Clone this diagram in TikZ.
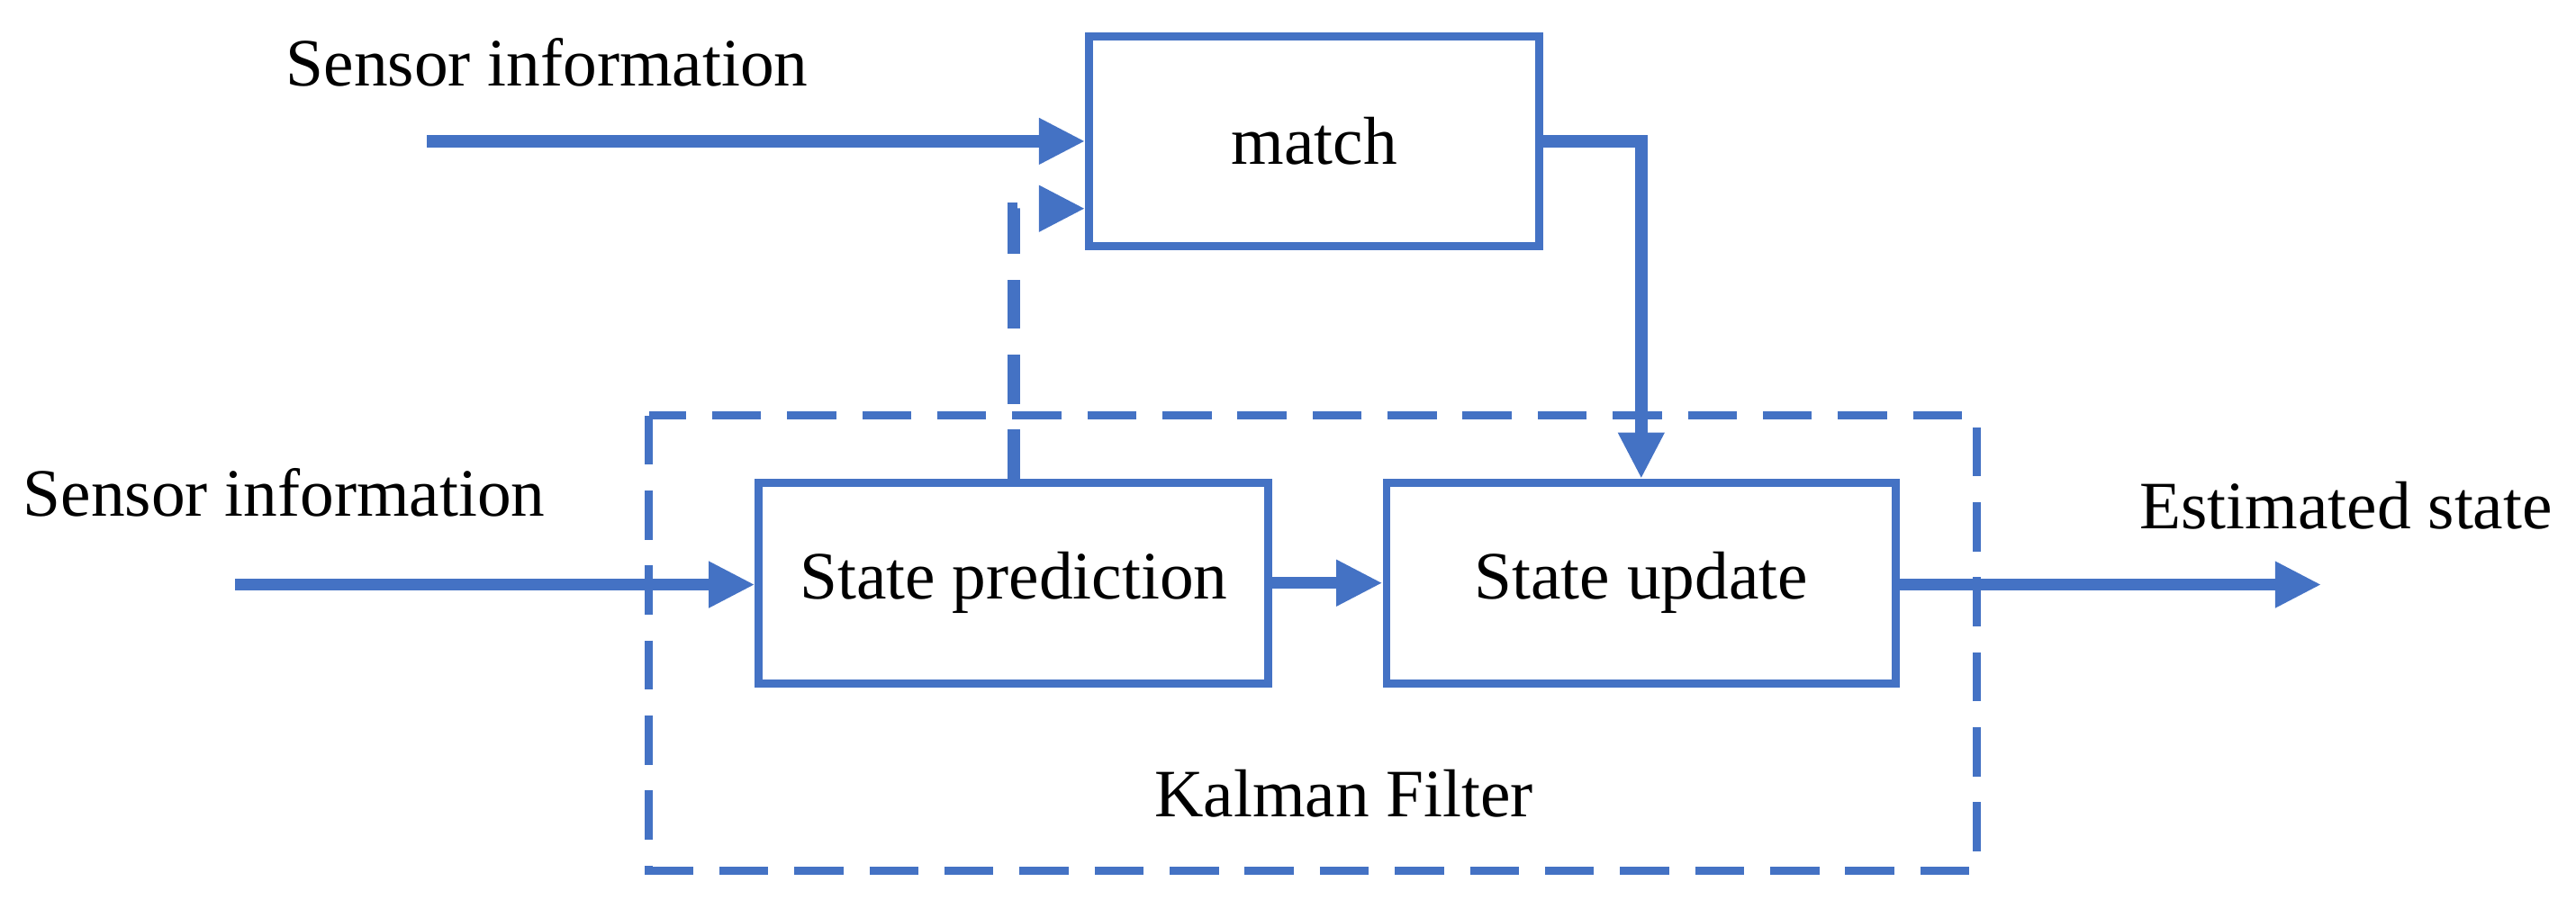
\documentclass[tikz,border=0pt]{standalone}
\usepackage{fontspec}
\setmainfont{Liberation Serif}
\usetikzlibrary{arrows.meta,positioning}
\definecolor{kblue}{HTML}{4472C4}
\tikzset{
  blk/.style={draw=kblue,line width=2.8pt,minimum width=6.2cm,minimum height=2.44cm,font=\fontsize{23.5}{28}\selectfont},
  lbl/.style={font=\fontsize{23.5}{28}\selectfont},
  flow/.style={kblue,line width=4.2pt,-{Triangle[length=16pt,width=15pt]}},
}
\begin{document}
\begin{tikzpicture}
	\useasboundingbox (0,0) rectangle (31.36,-11.06);
	%% boxes
	\node[blk,minimum width=5.48cm,minimum height=2.56cm] (match) at (16,-1.72) {match};
	\node[blk] (pred) at (12.34,-7.1) {State prediction};
	\node[blk] (upd) at (19.98,-7.1) {State update};
	\draw[kblue,line width=2.8pt,dash pattern=on 17pt off 9pt] (7.9,-5.06) rectangle (24.06,-10.6);
	\node[lbl] (kf) at (16.36,-9.66) {Kalman Filter};
	%% texts
	\node[lbl] (s1) at (6.66,-0.76) {Sensor information};
	\node[lbl] (s2) at (3.46,-6.0) {Sensor information};
	\node[lbl] (est) at (28.56,-6.16) {Estimated state};
	\coordinate (in1) at (5.2,-1.72);
	\coordinate (in2) at (2.86,-7.12);
	\coordinate (out) at (28.26,-7.12);
	%% connectors
	\draw[flow] (in1) -- (in1 -| match.west);
	\draw[flow] (in2) -- (in2 -| pred.west);
	\draw[flow] (pred) -- (upd);
	\draw[flow] (upd.east |- out) -- (out);
	\draw[flow] (match.east) -| (upd.north);
	\draw[flow,dash pattern=on 17pt off 9pt] (pred.north) |- ([yshift=-0.82cm]match.west);
\end{tikzpicture}
\end{document}
